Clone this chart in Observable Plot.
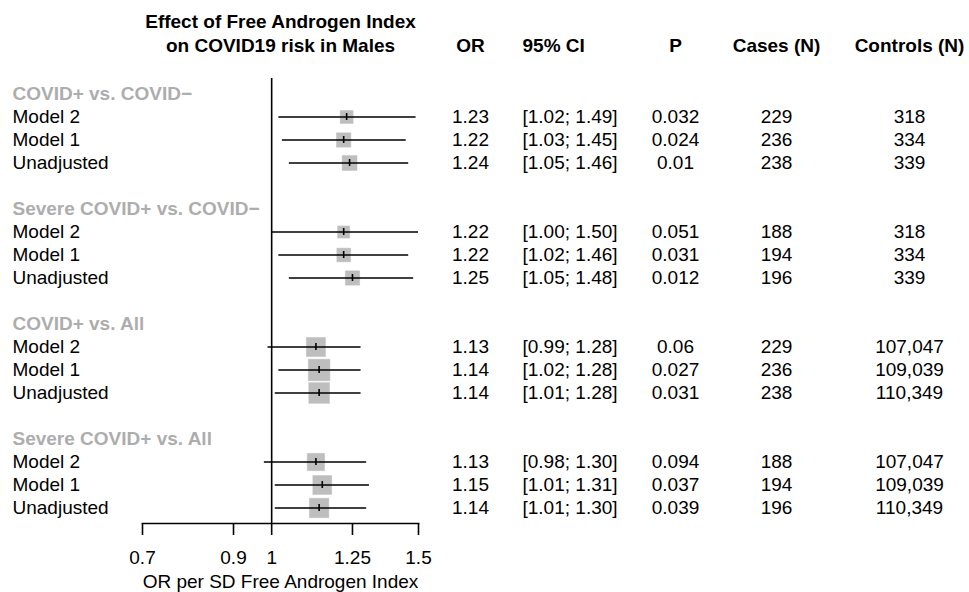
<!DOCTYPE html>
<html>
<head>
<meta charset="utf-8">
<script src="https://cdn.jsdelivr.net/npm/d3@7"></script>
<script src="https://cdn.jsdelivr.net/npm/@observablehq/plot@0.6"></script>
<style>
  body { margin: 0; background: #fff; }
</style>
</head>
<body>
<div id="chart"></div>
<script>
// ---------- data ----------
const groups = ["COVID+ vs. COVID\u2212", "Severe COVID+ vs. COVID\u2212", "COVID+ vs. All", "Severe COVID+ vs. All"];
const models = ["Model 2", "Model 1", "Unadjusted"];
const orValues = [1.23, 1.22, 1.24, 1.22, 1.22, 1.25, 1.13, 1.14, 1.14, 1.13, 1.15, 1.14];
const ciLower  = [1.02, 1.03, 1.05, 1.00, 1.02, 1.05, 0.99, 1.02, 1.01, 0.98, 1.01, 1.01];
const ciUpper  = [1.49, 1.45, 1.46, 1.50, 1.46, 1.48, 1.28, 1.28, 1.28, 1.30, 1.31, 1.30];
const pValues  = ["0.032", "0.024", "0.01", "0.051", "0.031", "0.012", "0.06", "0.027", "0.031", "0.094", "0.037", "0.039"];
const casesN   = [229, 236, 238, 188, 194, 196, 229, 236, 238, 188, 194, 196];
const controlsN = [318, 334, 339, 318, 334, 339, 107047, 109039, 110349, 107047, 109039, 110349];
const xTicks = [0.7, 0.9, 1, 1.25, 1.5];
const titleLines = ["Effect of Free Androgen Index", "on COVID19 risk in Males"];
const columnHeaders = ["OR", "95% CI", "P", "Cases (N)", "Controls (N)"];
const xLabel = "OR per SD Free Androgen Index";

// ---------- rows ----------
const rowIds = [], headers = [], studies = [];
groups.forEach((g, gi) => {
  const hid = "h" + gi;
  rowIds.push(hid);
  headers.push({id: hid, label: g});
  models.forEach((m, mi) => {
    const i = gi * models.length + mi;
    const id = "s" + i;
    rowIds.push(id);
    const se = (Math.log(ciUpper[i]) - Math.log(ciLower[i])) / 3.92;
    studies.push({
      id, label: m, or: orValues[i], lo: ciLower[i], hi: ciUpper[i],
      p: pValues[i], cases: casesN[i], controls: controlsN[i],
      side: 1.25 / se
    });
  });
  if (gi < groups.length - 1) rowIds.push("b" + gi);
});

// ---------- layout ----------
const W = 969, H = 592;
const mLeft = 142, mRight = W - 418, mTop = 78, mBottom = H - 523;
const col = {label: 12, or: 470, ci: 522, p: 675, cases: 776, controls: 909};
const headerY = 45.5, title1Y = 21;
const fmt2 = d3.format(".2f"), fmtN = d3.format(",");
const GRAY_SQ = "#bebebe", GRAY_TXT = "#adadad";
const font = "'Liberation Sans', Arial, Helvetica, sans-serif";

const colText = (data, key, pos, anchor, extra = {}) =>
  Plot.text(data, {y: "id", text: key, frameAnchor: "left", dx: pos - mLeft, textAnchor: anchor, lineAnchor: "middle", ...extra});

const headText = (txt, pos, anchor) =>
  Plot.text([txt], {frameAnchor: "top-left", lineAnchor: "middle", dx: pos - mLeft, dy: headerY - mTop, textAnchor: anchor, fontWeight: "bold"});

const chart = Plot.plot({
  width: W, height: H,
  marginLeft: mLeft, marginRight: mRight, marginTop: mTop, marginBottom: mBottom,
  style: {fontFamily: font, fontSize: "19px", background: "#fff", color: "#000", overflow: "visible"},
  x: {type: "log", domain: [0.7, 1.5]},
  y: {type: "band", domain: rowIds, paddingInner: 0, paddingOuter: 0.09, axis: null},
  r: {type: "linear", domain: [0, 10], range: [0, 10]},
  marks: [
    Plot.ruleX([1], {strokeWidth: 1.6}),
    Plot.dot(studies, {x: "or", y: "id", symbol: "square", r: d => d.side / Math.sqrt(Math.PI), fill: GRAY_SQ, stroke: GRAY_SQ, strokeWidth: 0.5}),
    Plot.ruleY(studies, {y: "id", x1: "lo", x2: "hi", strokeWidth: 1.6}),
    Plot.tickX(studies, {x: "or", y: "id", insetTop: 8, insetBottom: 8, strokeWidth: 1.6}),
    Plot.frame({anchor: "bottom", strokeWidth: 1.6}),
    Plot.axisX({ticks: xTicks, tickSize: 12, tickPadding: 14.5, fontSize: 19, tickFormat: d => String(d), strokeWidth: 1.6, label: null}),
    Plot.text([xLabel], {frameAnchor: "bottom", lineAnchor: "middle", dy: 58.5}),
    // title
    Plot.text([titleLines[0]], {frameAnchor: "top", lineAnchor: "middle", dy: title1Y - mTop, fontWeight: "bold"}),
    Plot.text([titleLines[1]], {frameAnchor: "top", lineAnchor: "middle", dy: headerY - mTop, fontWeight: "bold"}),
    // column headers
    headText(columnHeaders[0], col.or, "middle"),
    headText(columnHeaders[1], col.ci, "start"),
    headText(columnHeaders[2], col.p, "middle"),
    headText(columnHeaders[3], col.cases, "middle"),
    headText(columnHeaders[4], col.controls, "middle"),
    // row labels and table columns
    colText(headers, "label", col.label, "start", {fill: GRAY_TXT, fontWeight: "bold"}),
    colText(studies, "label", col.label, "start"),
    colText(studies, d => fmt2(d.or), col.or, "middle"),
    colText(studies, d => `[${fmt2(d.lo)}; ${fmt2(d.hi)}]`, col.ci, "start"),
    colText(studies, "p", col.p, "middle"),
    colText(studies, d => fmtN(d.cases), col.cases, "middle"),
    colText(studies, d => fmtN(d.controls), col.controls, "middle")
  ]
});
document.getElementById("chart").appendChild(chart);
</script>
</body>
</html>
